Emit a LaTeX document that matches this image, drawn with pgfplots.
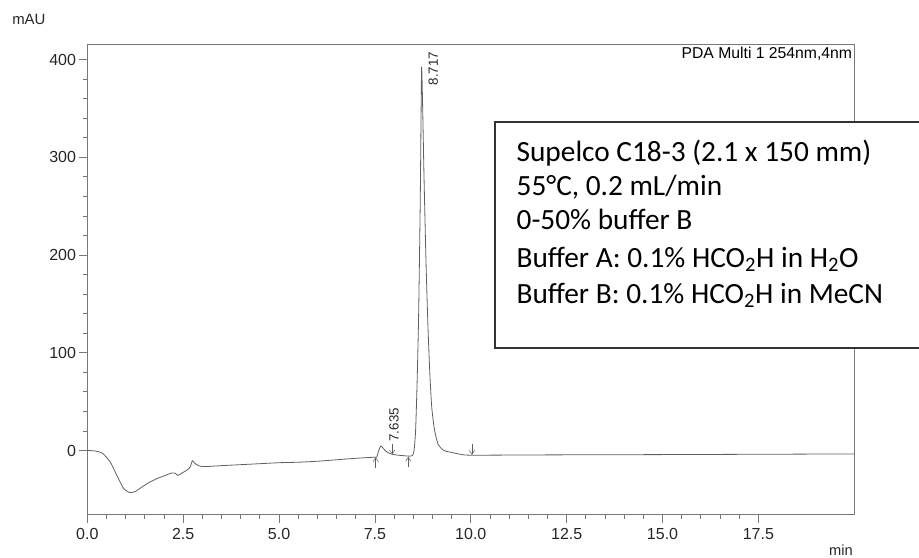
\documentclass[border=0pt]{standalone}
\usepackage{pgfplots}
\pgfplotsset{compat=1.18}
\usepackage{fontspec}
\setmainfont{Liberation Sans}
\newfontfamily\boxfont{Carlito}
\usetikzlibrary{arrows.meta}
\definecolor{frame}{RGB}{120,120,120}
\definecolor{trace}{RGB}{95,95,95}
\begin{document}
\begin{tikzpicture}
\begin{axis}[
  scale only axis,
  width=575.25pt, height=352.5pt,
  xmin=0, xmax=20, ymin=-65.5, ymax=415.4,
  axis line style={frame, line width=0.6pt},
  xtick={0,2.5,5,7.5,10,12.5,15,17.5},
  xticklabels={0.0,2.5,5.0,7.5,10.0,12.5,15.0,17.5},
  minor x tick num=4,
  ytick={0,100,200,300,400},
  minor y tick num=4,
  tick align=outside,
  xtick pos=bottom, ytick pos=left,
  major tick length=6pt, minor tick length=3.5pt,
  tick style={frame, line width=0.6pt},
  tick label style={font=\fontsize{12}{13}\selectfont, text=black!85},
  /pgf/number format/assume math mode=true,
  xticklabel style={yshift=-1pt},
  yticklabel style={xshift=1pt},
  clip=false,
]
\addplot[trace, line width=0.6pt, smooth, tension=0.4] coordinates {
(0,0) (0.2,-0.5) (0.4,-3) (0.6,-12) (0.8,-28) (0.95,-39) (1.1,-43) (1.25,-42)
(1.4,-38) (1.6,-33) (1.8,-29) (2.0,-26) (2.2,-23) (2.3,-23.5) (2.36,-25.5)
(2.45,-23.5) (2.6,-20) (2.68,-17) (2.74,-10.5) (2.8,-13) (2.9,-15.5) (3.05,-16.5)
(3.5,-15.5) (4.0,-14.5) (4.5,-13.5) (5.0,-12.5) (5.5,-12) (6.0,-11) (6.5,-9.5)
(7.0,-8) (7.5,-6.8) (7.55,-6.5) (7.6,0) (7.65,4.5) (7.7,3) (7.78,-0.5) (7.88,-3)
(7.97,-4) (8.1,-4.8) (8.3,-5.5) (8.4,-5.8) (8.48,-5) (8.52,0) (8.56,20) (8.60,70)
(8.64,140) (8.68,250) (8.70,330) (8.717,392) (8.74,360) (8.78,280) (8.83,196)
(8.88,130) (8.93,80) (8.98,45) (9.05,22) (9.15,6) (9.3,0) (9.5,-2) (9.75,-4)
(10.03,-4.8) (12,-4.5) (15,-4.2) (18,-3.8) (20,-3.5)
};
% integration marks
\draw[trace, line width=0.4pt, -{Straight Barb[length=3pt,width=4pt]}] (axis cs:7.52,-18) -- (axis cs:7.52,-7);
\draw[trace, line width=0.4pt, -{Straight Barb[length=3pt,width=4pt]}] (axis cs:8.37,-17) -- (axis cs:8.37,-6.5);
\draw[trace, line width=0.4pt, -{Straight Barb[length=3pt,width=4pt]}] (axis cs:7.95,7) -- (axis cs:7.95,-4);
\draw[trace, line width=0.4pt, -{Straight Barb[length=3pt,width=4pt]}] (axis cs:10.03,7) -- (axis cs:10.03,-4.5);
% peak labels
\node[rotate=90, anchor=west, inner sep=0pt, font=\fontsize{10}{11}\selectfont, text=black!85] at (axis cs:8.0,9) {7.635};
\node[rotate=90, anchor=east, inner sep=0pt, font=\fontsize{10}{11}\selectfont, text=black!85] at (axis cs:9.02,408) {8.717};
\end{axis}
% annotations outside the axis
\node[anchor=west, inner sep=0pt, font=\fontsize{11.2}{12}\selectfont, text=black!85] at (-56.5pt,371.6pt) {mAU};
\node[anchor=base east, inner sep=0pt, font=\fontsize{11}{12}\selectfont, text=black!85] at (574.3pt,-30.5pt) {min};
\node[anchor=north east, inner sep=0pt, font=\fontsize{11.8}{12}\selectfont, text=black] at (573.8pt,350.8pt) {PDA Multi 1 254nm,4nm};
% info box
\draw[black!80, line width=1.1pt, fill=white] (305.8pt,124.9pt) rectangle (660pt,294.4pt);
\begin{scope}[every node/.style={anchor=base west, inner sep=0pt, font=\boxfont\fontsize{22}{25}\selectfont}]
\node at (321.8pt,264.4pt) {Supelco C18-3 (2.1 x 150 mm)};
\node at (321.8pt,238.9pt) {55°C, 0.2 mL/min};
\node at (321.8pt,213.4pt) {0-50\% buffer B};
\node at (321.8pt,185.6pt) {Buffer A: 0.1\% HCO\textsubscript{2}H in H\textsubscript{2}O};
\node at (321.8pt,158.6pt) {Buffer B: 0.1\% HCO\textsubscript{2}H in MeCN};
\end{scope}
\pgfresetboundingbox
\path[use as bounding box] (-65.5pt,-32.6pt) rectangle (623.8pt,385.9pt);
\end{tikzpicture}
\end{document}
